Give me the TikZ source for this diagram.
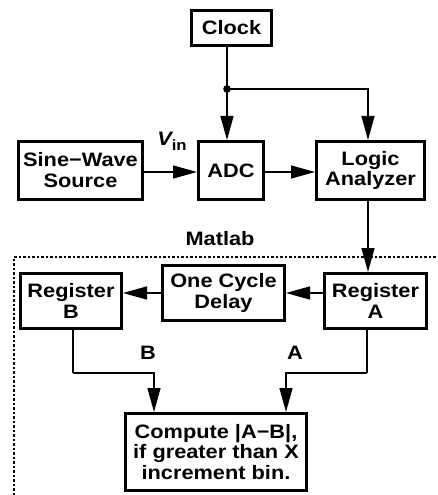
\documentclass[tikz,border=0pt]{standalone}
\usepackage{fontspec}
\setmainfont{Liberation Sans}[FakeStretch=1.12]
\usetikzlibrary{arrows.meta,calc}
\tikzset{
  blk/.style={draw, line width=3bp, align=center, inner sep=0pt, font=\fontsize{19.5}{21}\selectfont\bfseries},
  lbl/.style={inner sep=0pt, font=\fontsize{19.5}{21}\selectfont\bfseries},
  wire/.style={line width=1.3bp},
  arr/.style={wire, -{Triangle[length=24bp,width=13bp]}},
}
\begin{document}
\begin{tikzpicture}[x=1bp,y=-1bp]
\useasboundingbox (0,0) rectangle (438,495);
% boxes
\node[blk, minimum width=80bp, minimum height=35bp] (clock) at (231.5,28) {Clock};
\node[blk, minimum width=124bp, minimum height=58bp] (sine) at (80.5,170.5) {Sine−Wave\\Source};
\node[blk, minimum width=65bp, minimum height=58bp] (adc) at (231,170.5) {ADC};
\node[blk, minimum width=108bp, minimum height=58bp] (logic) at (370.5,170.5) {Logic\\Analyzer};
\node[blk, minimum width=101bp, minimum height=55bp] (regb) at (71,301) {Register\\B};
\node[blk, minimum width=122bp, minimum height=55bp] (ocd) at (223.5,293) {One Cycle\\Delay};
\node[blk, minimum width=102bp, minimum height=55bp] (rega) at (375.5,301) {Register\\A};
\node[blk, minimum width=181bp, minimum height=77bp] (comp) at (216,452) {Compute |A−B|,\\if greater than X\\increment bin.};
% labels
\node[lbl] (vin) at (172,141) {{\itshape V}\raisebox{-5bp}{\fontsize{15}{15}\selectfont in}};
\node[lbl] (matlab) at (220,239) {Matlab};
\node[lbl] (lb) at (148,353) {B};
\node[lbl] (la) at (295,353) {A};
% matlab region
\coordinate (mtr) at (440,257);
\coordinate (mtl) at (14,257);
\coordinate (mbl) at (14,497);
\draw[line width=1.3bp, dash pattern=on 2.5bp off 2bp] (mtr) -- (mtl) -- (mbl);
% clock distribution
\coordinate (j) at (227,89);
\coordinate (jr) at (368,89);
\draw[wire] (clock.south -| j) -- (j);
\draw[arr] (j) -- (adc.north -| j);
\draw[arr] (j) -- (jr) -- (logic.north -| jr);
\fill (j) circle (3.8bp);
% signal path
\coordinate (sy) at (0,172);
\draw[arr] (sine.east |- sy) -- (adc.west |- sy);
\draw[arr] (adc.east |- sy) -- (logic.west |- sy);
\draw[arr] (logic.south -| jr) -- (rega.north -| jr);
\coordinate (ry) at (0,293);
\draw[arr] (rega.west |- ry) -- (ocd.east |- ry);
\draw[arr] (ocd.west |- ry) -- (regb.east |- ry);
% to compute
\coordinate (bt) at (73,373);
\coordinate (bb) at (154,373);
\coordinate (at) at (367,373);
\coordinate (ab) at (286,373);
\draw[wire] (regb.south -| bt) -- (bt);
\draw[arr] (bt) -- (bb) -- (comp.north -| bb);
\draw[wire] (rega.south -| at) -- (at);
\draw[arr] (at) -- (ab) -- (comp.north -| ab);
\end{tikzpicture}
\end{document}
